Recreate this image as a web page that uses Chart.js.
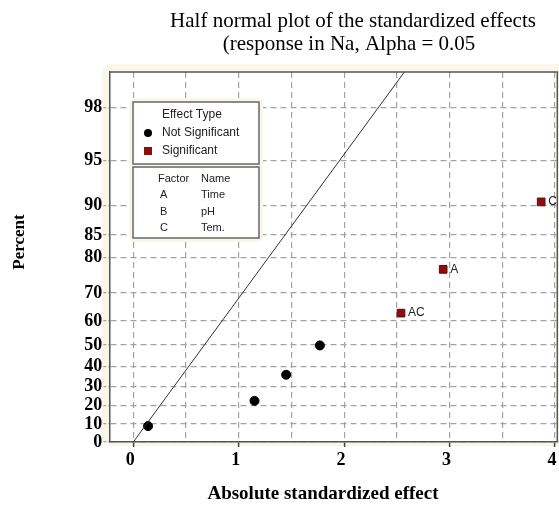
<!DOCTYPE html>
<html>
<head>
<meta charset="utf-8">
<script src="https://cdn.jsdelivr.net/npm/chart.js@4.4.0/dist/chart.umd.min.js"></script>
<style>
  html, body { margin: 0; padding: 0; background: #fff; }
  #caja { width: 559px; height: 505px; }
</style>
</head>
<body>
<div id="caja"><canvas id="grafico" width="559" height="505"></canvas></div>
<script>
// valores
const efectosNoSig = [0.14, 1.15, 1.45, 1.77];
const pctNoSig = [8.8, 22.5, 36, 49.8];
const efectosSig = [2.54, 2.94, 3.87];
const pctSig = [63, 77, 90.5];
const nombresSig = ['AC', 'A', 'C'];
const lineaEfecto = [0, 2.6];
const lineaPct = [0, 99.07];
const ticksPct = [0, 10, 20, 30, 40, 50, 60, 70, 80, 85, 90, 95, 98];
const ticksEfecto = [0, 1, 2, 3, 4];
const factores = ['A', 'B', 'C'];
const nombresFactor = ['Time', 'pH', 'Tem.'];

// inversa de la normal (Acklam)
function normInv(p) {
    const a = [-3.969683028665376e+01, 2.209460984245205e+02, -2.759285104469687e+02, 1.383577518672690e+02, -3.066479806614716e+01, 2.506628277459239e+00];
    const b = [-5.447609879822406e+01, 1.615858368580409e+02, -1.556989798598866e+02, 6.680131188771972e+01, -1.328068155288572e+01];
    const c = [-7.784894002430293e-03, -3.223964580411365e-01, -2.400758277161838e+00, -2.549732539343734e+00, 4.374664141464968e+00, 2.938163982698783e+00];
    const d = [7.784695709041462e-03, 3.224671290700398e-01, 2.445134137142996e+00, 3.754408661907416e+00];
    const pl = 0.02425;
    if (p < pl) {
        const q = Math.sqrt(-2 * Math.log(p));
        return (((((c[0]*q+c[1])*q+c[2])*q+c[3])*q+c[4])*q+c[5]) / ((((d[0]*q+d[1])*q+d[2])*q+d[3])*q+1);
    }
    if (p > 1 - pl) {
        const q = Math.sqrt(-2 * Math.log(1 - p));
        return -(((((c[0]*q+c[1])*q+c[2])*q+c[3])*q+c[4])*q+c[5]) / ((((d[0]*q+d[1])*q+d[2])*q+d[3])*q+1);
    }
    const q = p - 0.5, r = q * q;
    return (((((a[0]*r+a[1])*r+a[2])*r+a[3])*r+a[4])*r+a[5])*q / (((((b[0]*r+b[1])*r+b[2])*r+b[3])*r+b[4])*r+1);
}

// escala half-normal: porcentaje -> cuantil
const cuantil = pct => normInv(0.5 + pct / 200);
const puntos = (xs, ps) => xs.map((x, i) => ({ x: x, y: cuantil(ps[i]) }));

const serif = '"Liberation Serif", "Times New Roman", serif';
const sans = '"Liberation Sans", Arial, sans-serif';
const rojo = '#8b0f0f';

const decoracion = {
    id: 'decoracion',
    beforeDraw(chart) {
        const { ctx, chartArea: a } = chart;
        ctx.save();
        ctx.fillStyle = '#fbf6ea';
        ctx.beginPath();
        ctx.roundRect(a.left - 7, a.top - 8, a.right - a.left + 20, a.bottom - a.top + 12, 9);
        ctx.fill();
        ctx.fillStyle = '#fff';
        ctx.fillRect(a.left, a.top, a.right - a.left, a.bottom - a.top);
        ctx.restore();
    },
    afterDraw(chart) {
        const { ctx, chartArea: a } = chart;
        ctx.save();
        // marco superior y derecho
        ctx.strokeStyle = '#555';
        ctx.lineWidth = 1.5;
        ctx.beginPath();
        ctx.moveTo(a.left, a.top);
        ctx.lineTo(a.right, a.top);
        ctx.lineTo(a.right, a.bottom);
        ctx.stroke();

        // titulo
        ctx.fillStyle = '#000';
        ctx.textAlign = 'center';
        ctx.textBaseline = 'alphabetic';
        ctx.font = '21px ' + serif;
        ctx.fillText('Half normal plot of the standardized effects', 353, 27);
        ctx.fillText('(response in Na, Alpha = 0.05', 349, 50);

        // titulos de ejes
        ctx.font = 'bold 19px ' + serif;
        ctx.textBaseline = 'middle';
        ctx.fillText('Absolute standardized effect', 323, 494);
        ctx.save();
        ctx.translate(20, 242);
        ctx.rotate(-Math.PI / 2);
        ctx.font = 'bold 17px ' + serif;
        ctx.fillText('Percent', 0, 0);
        ctx.restore();

        // etiquetas de efectos significativos
        const meta = chart.getDatasetMeta(2);
        ctx.font = '12px ' + sans;
        ctx.textAlign = 'left';
        ctx.fillStyle = '#222';
        meta.data.forEach((p, i) => {
            ctx.fillText(nombresSig[i], p.x + 7, p.y);
        });

        // leyenda
        ctx.fillStyle = '#fbf6ea';
        ctx.beginPath();
        ctx.roundRect(129, 98, 134, 144, 6);
        ctx.fill();
        ctx.fillStyle = '#fff';
        ctx.fillRect(133, 102, 126, 62);
        ctx.fillRect(133, 167, 126, 71);
        ctx.strokeStyle = '#666';
        ctx.lineWidth = 1.5;
        ctx.strokeRect(133, 102, 126, 62);
        ctx.strokeRect(133, 167, 126, 71);

        ctx.fillStyle = '#222';
        ctx.font = '12px ' + sans;
        ctx.fillText('Effect Type', 162, 115);
        ctx.fillText('Not Significant', 162, 133);
        ctx.fillText('Significant', 162, 151);
        ctx.fillStyle = '#000';
        ctx.beginPath();
        ctx.arc(148, 133, 4, 0, Math.PI * 2);
        ctx.fill();
        ctx.fillStyle = rojo;
        ctx.fillRect(144, 147, 8, 8);

        ctx.fillStyle = '#222';
        ctx.font = '11px ' + sans;
        ctx.fillText('Factor', 158, 179);
        ctx.fillText('Name', 201, 179);
        factores.forEach((f, i) => {
            const y = 195 + i * 16.5;
            ctx.fillText(f, 160, y);
            ctx.fillText(nombresFactor[i], 201, y);
        });
        ctx.restore();
    }
};

const pasosX = [];
for (let v = 0; v <= 4; v += 0.5) pasosX.push(v);

new Chart(document.getElementById('grafico'), {
    type: 'scatter',
    data: {
        datasets: [
            {
                label: 'Reference',
                type: 'line',
                data: puntos(lineaEfecto, lineaPct),
                borderColor: '#333',
                borderWidth: 1,
                pointRadius: 0,
                fill: false
            },
            {
                label: 'Not Significant',
                data: puntos(efectosNoSig, pctNoSig),
                pointStyle: 'circle',
                pointRadius: 4.5,
                backgroundColor: '#000',
                borderColor: '#000'
            },
            {
                label: 'Significant',
                data: puntos(efectosSig, pctSig),
                pointStyle: 'rect',
                pointRadius: 5.4,
                backgroundColor: rojo,
                borderColor: '#6a0505',
                borderWidth: 1
            }
        ]
    },
    options: {
        responsive: false,
        animation: false,
        layout: { autoPadding: false, padding: { top: 72, right: 1.7, left: 0, bottom: 0 } },
        plugins: { legend: { display: false }, tooltip: { enabled: false } },
        scales: {
            x: {
                type: 'linear',
                min: -0.228,
                max: 4.023,
                afterBuildTicks: s => { s.ticks = pasosX.map(v => ({ value: v })); },
                afterFit: s => { s.height = 63; s.paddingLeft = 0; s.paddingRight = 0; },
                ticks: {
                    autoSkip: false,
                    maxRotation: 0,
                    padding: 3,
                    labelOffset: -3,
                    color: '#000',
                    font: { family: serif, size: 18, weight: 'bold' },
                    callback: v => ticksEfecto.includes(v) ? String(v) : ''
                },
                grid: {
                    color: '#a3a3a3',
                    lineWidth: 1.2,
                    tickLength: 5,
                    tickColor: c => ticksEfecto.includes(c.tick.value) ? '#444' : 'rgba(0,0,0,0)',
                    tickWidth: 1.5
                },
                border: { color: '#555', width: 1.5, dash: [6, 4] }
            },
            y: {
                type: 'linear',
                min: 0,
                max: 2.573,
                afterBuildTicks: s => { s.ticks = ticksPct.map(p => ({ value: cuantil(p) })); },
                afterFit: s => { s.width = 109.3; s.paddingTop = 0; s.paddingBottom = 0; },
                ticks: {
                    autoSkip: false,
                    padding: 1,
                    color: '#000',
                    font: { family: serif, size: 18, weight: 'bold' },
                    callback: (v, i) => String(ticksPct[i])
                },
                grid: {
                    color: '#a3a3a3',
                    lineWidth: 1.2,
                    tickLength: 6,
                    tickColor: '#a3a3a3',
                    tickBorderDash: [3, 2]
                },
                border: { color: '#555', width: 1.5, dash: [6, 4] }
            }
        }
    },
    plugins: [decoracion]
});
</script>
</body>
</html>
